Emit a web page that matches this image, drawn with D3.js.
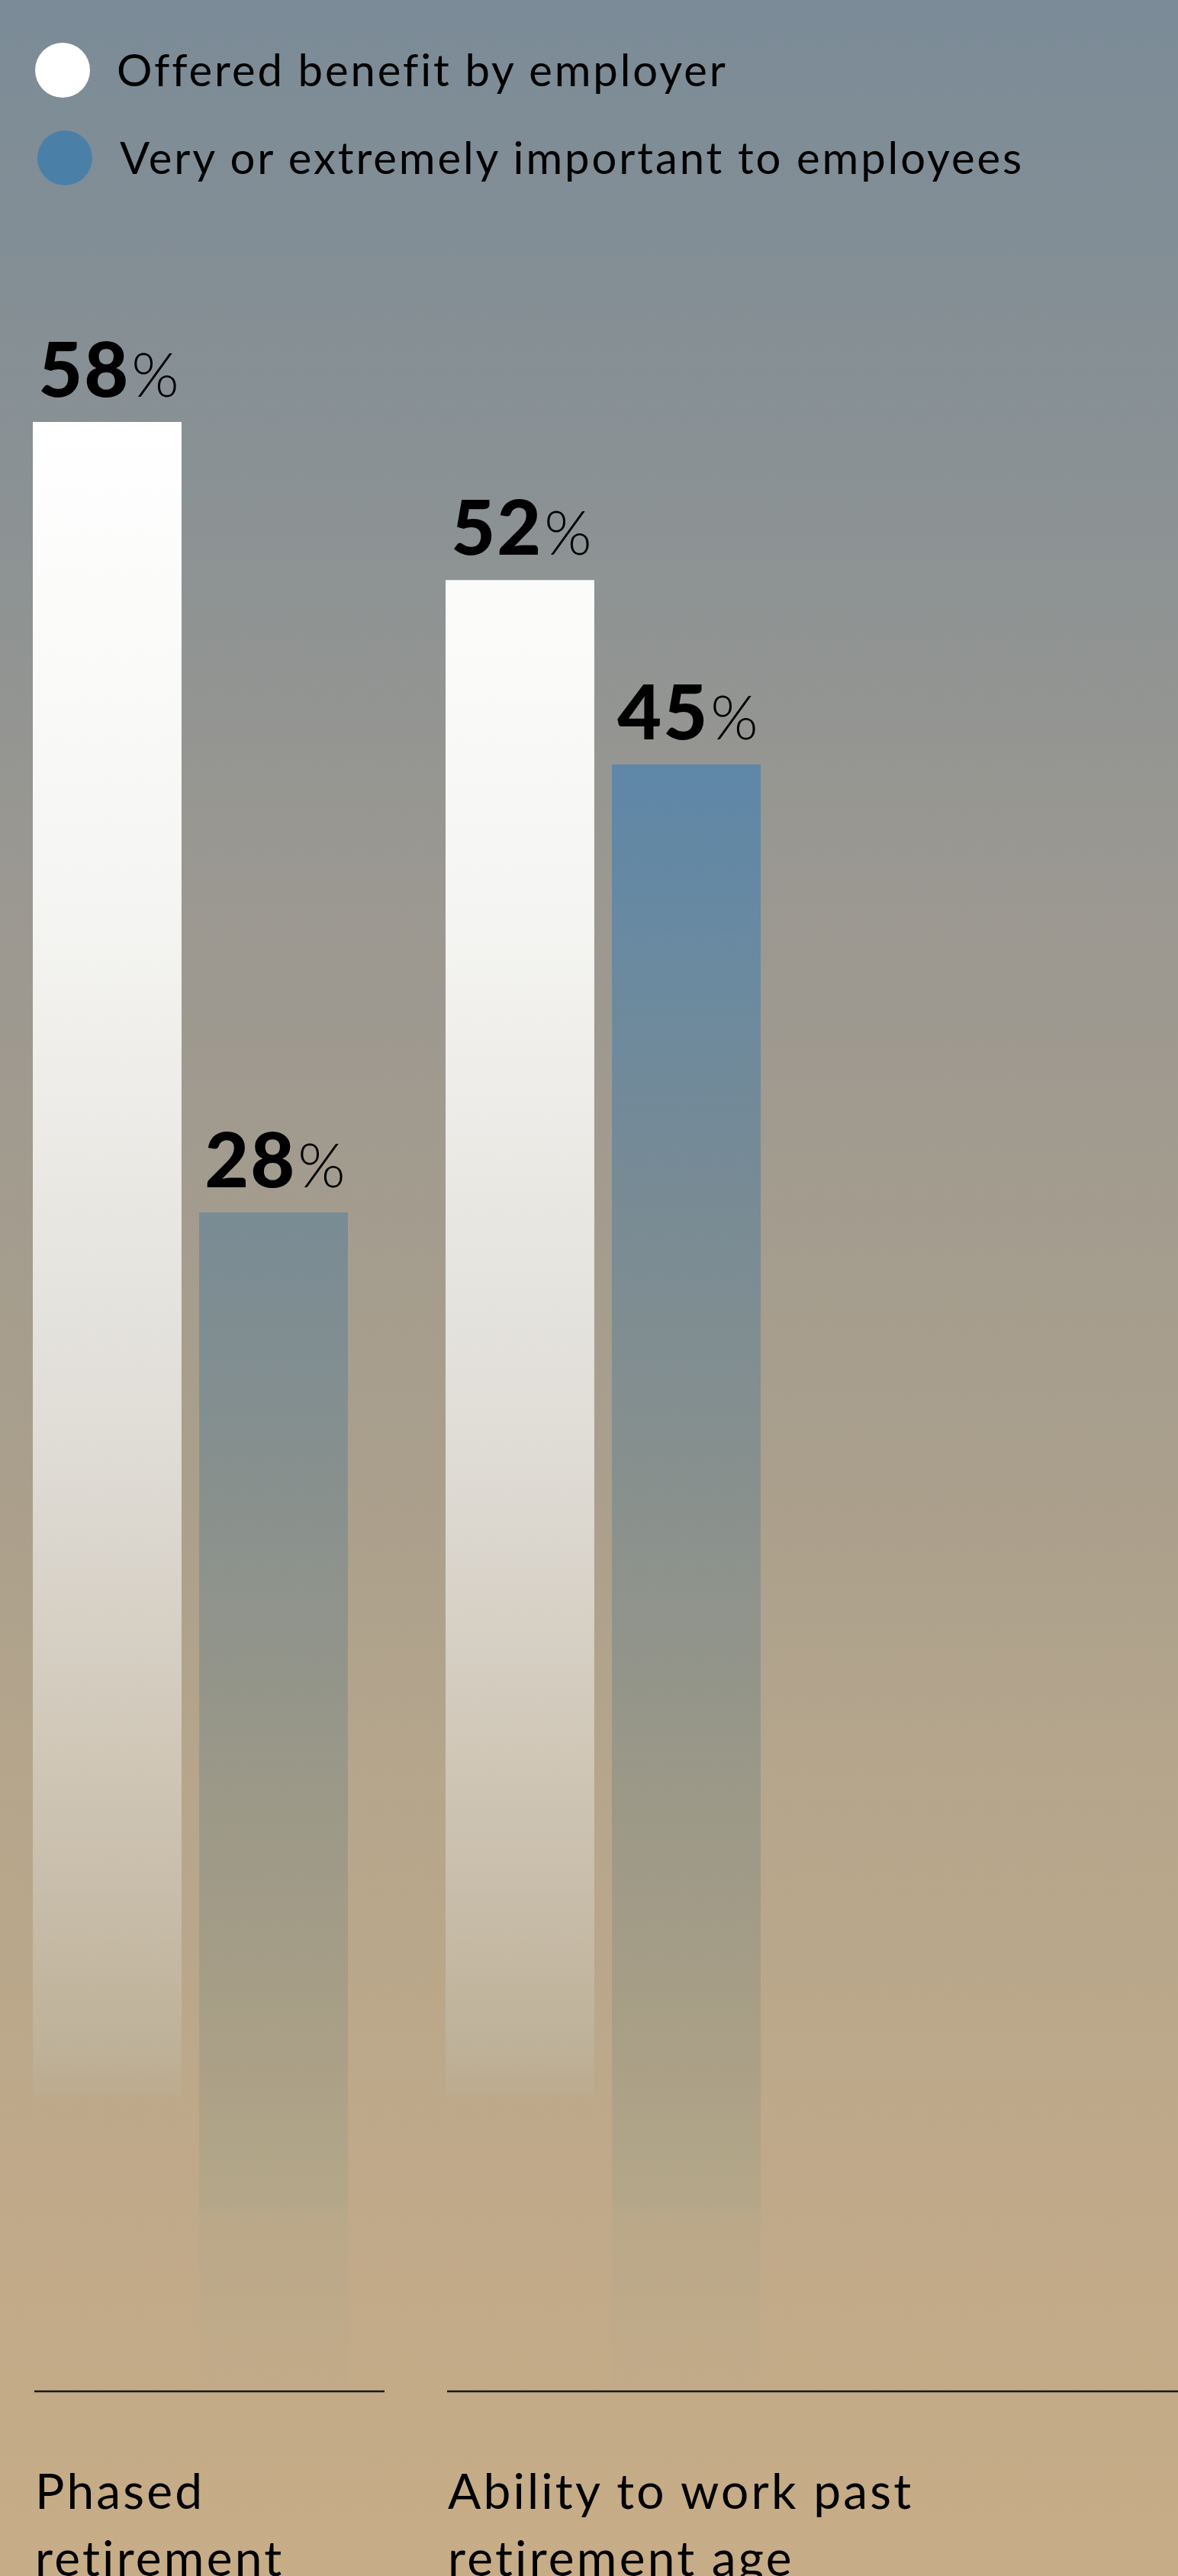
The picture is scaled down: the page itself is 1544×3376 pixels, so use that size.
<!DOCTYPE html>
<html>
<head>
<meta charset="utf-8">
<script src="https://cdn.jsdelivr.net/npm/d3@7/dist/d3.min.js"></script>
<style>
  html, body { margin: 0; padding: 0; background: #a09a91; }
  svg { display: block; }
</style>
</head>
<body>
<svg id="chart" width="1544" height="3376"></svg>
<script>
// ---- data ----
const categories = ["Phased retirement", "Ability to work past retirement age"];
const categoryLines = [["Phased", "retirement"], ["Ability to work past", "retirement age"]];
const seriesNames = ["Offered benefit by employer", "Very or extremely important to employees"];
const seriesKeys = ["offered", "important"];
const offeredValues = [58, 52];
const importantValues = [28, 45];

// ---- layout ----
const W = 1544, H = 3376;
const baseY = 3134;
const svg = d3.select("#chart");
const defs = svg.append("defs");

// background gradient
const bgStops = [
  [0, "#7b8b97"], [600, "#899194"], [1180, "#9b9891"], [1930, "#aa9f8c"],
  [2330, "#b5a68c"], [2900, "#c0a989"], [3376, "#c7ad87"]
];
const bg = defs.append("linearGradient").attr("id", "bg")
  .attr("gradientUnits", "userSpaceOnUse").attr("x1", 0).attr("x2", 0).attr("y1", 0).attr("y2", H);
bgStops.forEach(([y, c]) => bg.append("stop").attr("offset", y / H).attr("stop-color", c));
svg.append("rect").attr("width", W).attr("height", H).attr("fill", "url(#bg)");

// bar gradients (absolute coordinates)
function grad(id, stops) {
  const g = defs.append("linearGradient").attr("id", id)
    .attr("gradientUnits", "userSpaceOnUse").attr("x1", 0).attr("x2", 0).attr("y1", 0).attr("y2", H);
  stops.forEach(([y, c, o]) => g.append("stop").attr("offset", y / H).attr("stop-color", c).attr("stop-opacity", o));
}
grad("g-offered", [
  [553, "#ffffff", 1], [1180, "#f5f5f3", 1], [1930, "#dedbd4", 1],
  [2330, "#cfc5b5", 1], [2500, "#c7bca8", 1], [2700, "#bdb097", 1], [2745, "#bcae93", 0.6],
  [2750, "#bcae93", 0], [3376, "#bcae93", 0]
]);
grad("g-important", [
  [900, "#5c86aa", 1], [1002, "#5f87a8", 1], [1180, "#6689a2", 1], [1589, "#798b94", 1],
  [1930, "#87908e", 1], [2330, "#9a9888", 1], [2600, "#a69d86", 1], [2890, "#b4a789", 1],
  [2905, "#b8a889", 0.8], [3050, "#bba988", 0.5], [3134, "#bea988", 0.3]
]);

// scales
const x0 = d3.scaleBand().domain(categories).range([43, 997]).paddingInner(0.2366).paddingOuter(0);
const x1 = d3.scaleBand().domain(seriesKeys).range([0, x0.bandwidth()]).paddingInner(0.106);
const y = d3.scaleLinear().domain([0, 58]).range([2556, 553]);

const rows = categories.map((c, i) => ({
  cat: c, i,
  vals: [
    { key: "offered", v: offeredValues[i] },
    { key: "important", v: importantValues[i] }
  ]
}));

// bars
const groups = svg.selectAll("g.grp").data(rows).join("g")
  .attr("class", "grp").attr("transform", d => `translate(${x0(d.cat)},0)`);

groups.selectAll("rect").data(d => d.vals).join("rect")
  .attr("x", d => x1(d.key)).attr("width", x1.bandwidth())
  .attr("y", d => y(d.v)).attr("height", d => baseY - y(d.v))
  .attr("fill", d => `url(#g-${d.key})`);

// value labels
const lbl = groups.selectAll("text.val").data(d => d.vals).join("text")
  .attr("class", "val")
  .attr("x", d => x1(d.key) + x1.bandwidth() / 2 + 2)
  .attr("y", d => y(d.v) - 33)
  .attr("text-anchor", "middle")
  .attr("fill", "#000")
  .style("font-family", "Lato, sans-serif");
lbl.append("tspan").text(d => d.v).style("font-size", "100px").style("font-weight", 900).style("letter-spacing", "2px");
lbl.append("tspan").text("%").style("font-size", "80px").style("font-weight", 300).attr("dx", 2);

// baseline rules under each category
svg.selectAll("line.rule").data(categories).join("line")
  .attr("class", "rule")
  .attr("x1", (d, i) => x0(d) + 2)
  .attr("x2", (d, i) => i < categories.length - 1 ? x0(categories[i + 1]) - 80 : W)
  .attr("y1", baseY).attr("y2", baseY)
  .attr("stroke", "#1a1a1a").attr("stroke-width", 2.5);

// category labels
const catText = svg.selectAll("text.cat").data(categories).join("text")
  .attr("class", "cat")
  .attr("x", d => x0(d) + 3)
  .attr("y", 3288)
  .attr("fill", "#000")
  .style("font-family", "Lato, sans-serif")
  .style("font-size", "64px")
  .style("font-weight", 400)
  .style("letter-spacing", "3.2px");
catText.selectAll("tspan").data((d, i) => categoryLines[i]).join("tspan")
  .attr("x", function () { return d3.select(this.parentNode).attr("x"); })
  .attr("dy", (d, j) => j === 0 ? 0 : 88)
  .text(d => d);

// legend
const legendColors = ["#ffffff", "#4a80a8"];
const legendY = [92, 207];
const lg = svg.selectAll("g.leg").data(seriesNames).join("g").attr("class", "leg");
lg.append("circle").attr("cx", (d, i) => i === 0 ? 82 : 85).attr("cy", (d, i) => legendY[i]).attr("r", 36)
  .attr("fill", (d, i) => legendColors[i]);
lg.append("text").attr("x", (d, i) => i === 0 ? 153 : 157).attr("y", (d, i) => legendY[i] + 21)
  .attr("fill", "#000")
  .style("font-family", "Lato, sans-serif").style("font-size", "58px").style("font-weight", 400)
  .style("letter-spacing", "2.9px")
  .text(d => d);
</script>
</body>
</html>
